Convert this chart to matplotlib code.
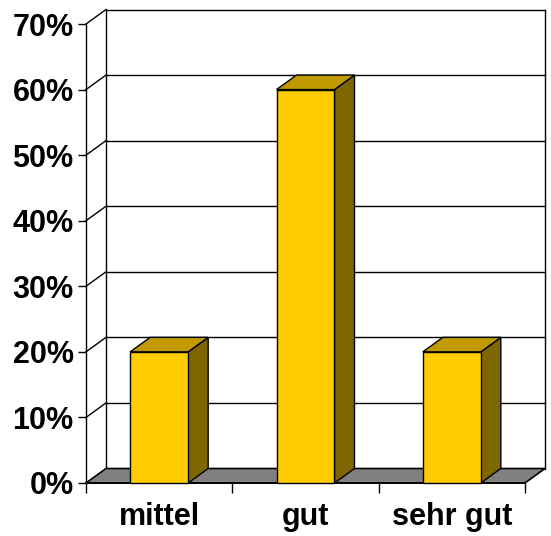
import matplotlib.pyplot as plt
from matplotlib.patches import Polygon

categories = ["mittel", "gut", "sehr gut"]
shares = [20, 60, 20]  # percent
y_ticks = [0, 10, 20, 30, 40, 50, 60, 70]

plt.rcParams['font.family'] = ['Liberation Sans', 'DejaVu Sans']
plt.rcParams['font.weight'] = 'bold'

W, H = 551, 536
fig = plt.figure(figsize=(W / 100, H / 100), dpi=100)
# front plane of the plot: x 86..525 px, y 483..24 px
ax = fig.add_axes([86 / W, (H - 483) / H, (525 - 86) / W, (483 - 24) / H])
ax.set_xlim(0, 3)
ax.set_ylim(0, 70)

# depth offset of the 3D box, in data units
dx = 20 / (439 / 3)
dy = 14.5 / (459 / 70)

face = "#FFCC00"
top = "#C09A00"
side = "#806600"

# floor
ax.add_patch(Polygon([(0, 0), (3, 0), (3 + dx, dy), (dx, dy)], closed=True,
                     facecolor="#808080", edgecolor="black", lw=1.2,
                     clip_on=False, zorder=1))

# back wall gridlines and side wall diagonals
for v in y_ticks[1:]:
    ax.plot([dx, 3 + dx], [v + dy, v + dy], color="black", lw=1.0,
            clip_on=False, zorder=0.5)
    ax.plot([0, dx], [v, v + dy], color="black", lw=1.0, clip_on=False, zorder=0.5)
ax.plot([dx, dx], [dy, 70 + dy], color="black", lw=1.0, clip_on=False, zorder=0.5)
ax.plot([3 + dx, 3 + dx], [dy, 70 + dy], color="black", lw=1.0,
        clip_on=False, zorder=0.5)

# bars
bw = 58 / (439 / 3)
for i, v in enumerate(shares):
    x0 = i + 0.5 - bw / 2
    x1 = i + 0.5 + bw / 2
    kw = dict(closed=True, edgecolor="black", lw=1.0, clip_on=False, zorder=3)
    ax.add_patch(Polygon([(x1, 0), (x1 + dx, dy), (x1 + dx, v + dy), (x1, v)],
                         facecolor=side, **kw))
    ax.add_patch(Polygon([(x0, v), (x1, v), (x1 + dx, v + dy), (x0 + dx, v + dy)],
                         facecolor=top, **kw))
    ax.add_patch(Polygon([(x0, 0), (x1, 0), (x1, v), (x0, v)],
                         facecolor=face, **kw))

for s in ["top", "right"]:
    ax.spines[s].set_visible(False)
ax.spines["left"].set_linewidth(1.0)
ax.spines["bottom"].set_linewidth(1.2)
ax.spines["bottom"].set_zorder(2)

ax.set_yticks(y_ticks)
ax.set_yticklabels([f"{v}%" for v in y_ticks], fontsize=22, fontweight="bold")
ax.tick_params(axis="y", length=6, width=1.0, pad=3)

ax.set_xticks([0, 1, 2, 3], minor=True)
ax.set_xticks([0.5, 1.5, 2.5])
ax.set_xticklabels(categories, fontsize=22, fontweight="bold")
ax.tick_params(axis="x", which="major", length=0, pad=14)
ax.tick_params(axis="x", which="minor", length=7, width=1.0)
ax.patch.set_alpha(0)

fig.savefig("out.png", dpi=100)
